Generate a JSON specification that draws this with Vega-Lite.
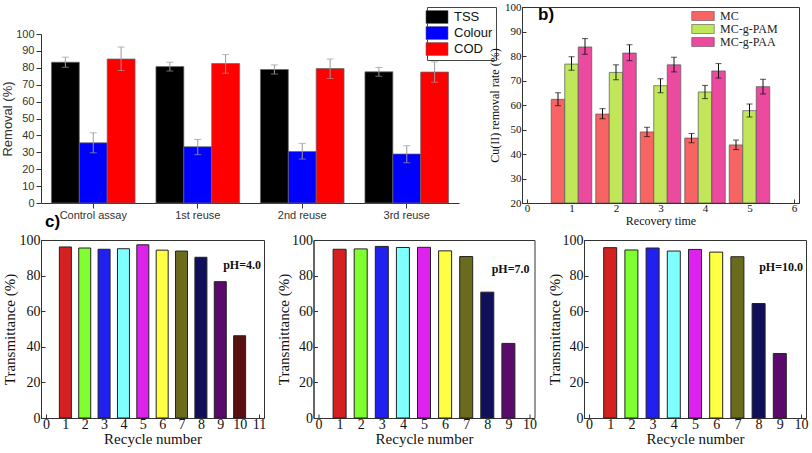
{
  "$schema": "https://vega.github.io/schema/vega-lite/v6.json",
  "padding": {"left": 1, "top": 0, "right": 0, "bottom": 0},
  "background": "white",
  "config": {
    "view": {"stroke": null},
    "axis": {"grid": false, "labelOverlap": false, "labelFlush": false, "labelFont": "Liberation Serif", "titleFont": "Liberation Serif", "titleFontWeight": "normal", "labelColor": "#111", "titleColor": "#111", "domainColor": "#333", "tickColor": "#333"}
  },
  "datasets": {
    "a": [
      {"cat": "Control assay", "series": "TSS", "v": 83.3, "lo": 80.3, "hi": 86.3},
      {"cat": "Control assay", "series": "Colour", "v": 35.6, "lo": 29.7, "hi": 41.5},
      {"cat": "Control assay", "series": "COD", "v": 85.2, "lo": 78.4, "hi": 92.3},
      {"cat": "1st reuse", "series": "TSS", "v": 80.7, "lo": 78.1, "hi": 83.3},
      {"cat": "1st reuse", "series": "Colour", "v": 33.3, "lo": 28.6, "hi": 37.6},
      {"cat": "1st reuse", "series": "COD", "v": 82.5, "lo": 76.8, "hi": 87.8},
      {"cat": "2nd reuse", "series": "TSS", "v": 79.0, "lo": 76.3, "hi": 81.7},
      {"cat": "2nd reuse", "series": "Colour", "v": 30.5, "lo": 26.0, "hi": 35.3},
      {"cat": "2nd reuse", "series": "COD", "v": 79.6, "lo": 73.7, "hi": 85.2},
      {"cat": "3rd reuse", "series": "TSS", "v": 77.6, "lo": 75.0, "hi": 80.2},
      {"cat": "3rd reuse", "series": "Colour", "v": 29.0, "lo": 23.8, "hi": 33.9},
      {"cat": "3rd reuse", "series": "COD", "v": 77.5, "lo": 71.5, "hi": 83.5}
    ],
    "b": [
      {"t": 1, "s": "MC", "v": 62.3, "lo": 59.7, "hi": 65.0},
      {"t": 1, "s": "MC-g-PAM", "v": 76.7, "lo": 74.2, "hi": 79.7},
      {"t": 1, "s": "MC-g-PAA", "v": 83.7, "lo": 80.7, "hi": 87.1},
      {"t": 2, "s": "MC", "v": 56.3, "lo": 54.4, "hi": 58.5},
      {"t": 2, "s": "MC-g-PAM", "v": 73.3, "lo": 70.3, "hi": 76.4},
      {"t": 2, "s": "MC-g-PAA", "v": 81.2, "lo": 78.1, "hi": 84.6},
      {"t": 3, "s": "MC", "v": 49.0, "lo": 47.1, "hi": 50.9},
      {"t": 3, "s": "MC-g-PAM", "v": 67.9, "lo": 65.0, "hi": 70.7},
      {"t": 3, "s": "MC-g-PAA", "v": 76.4, "lo": 73.5, "hi": 79.5},
      {"t": 4, "s": "MC", "v": 46.5, "lo": 44.6, "hi": 48.4},
      {"t": 4, "s": "MC-g-PAM", "v": 65.3, "lo": 62.6, "hi": 68.0},
      {"t": 4, "s": "MC-g-PAA", "v": 73.9, "lo": 71.0, "hi": 76.9},
      {"t": 5, "s": "MC", "v": 43.7, "lo": 41.8, "hi": 45.7},
      {"t": 5, "s": "MC-g-PAM", "v": 57.7, "lo": 55.1, "hi": 60.4},
      {"t": 5, "s": "MC-g-PAA", "v": 67.5, "lo": 64.5, "hi": 70.5}
    ],
    "c": [
      {"ph": "4.0", "n": 1, "tr": 96.1}, {"ph": "4.0", "n": 2, "tr": 95.5}, {"ph": "4.0", "n": 3, "tr": 94.8},
      {"ph": "4.0", "n": 4, "tr": 95.1}, {"ph": "4.0", "n": 5, "tr": 97.3}, {"ph": "4.0", "n": 6, "tr": 94.3},
      {"ph": "4.0", "n": 7, "tr": 93.8}, {"ph": "4.0", "n": 8, "tr": 90.3}, {"ph": "4.0", "n": 9, "tr": 76.6},
      {"ph": "4.0", "n": 10, "tr": 46.2},
      {"ph": "7.0", "n": 1, "tr": 94.8}, {"ph": "7.0", "n": 2, "tr": 95.0}, {"ph": "7.0", "n": 3, "tr": 96.4},
      {"ph": "7.0", "n": 4, "tr": 95.8}, {"ph": "7.0", "n": 5, "tr": 95.9}, {"ph": "7.0", "n": 6, "tr": 93.9},
      {"ph": "7.0", "n": 7, "tr": 90.7}, {"ph": "7.0", "n": 8, "tr": 70.7}, {"ph": "7.0", "n": 9, "tr": 41.9},
      {"ph": "10.0", "n": 1, "tr": 95.7}, {"ph": "10.0", "n": 2, "tr": 94.4}, {"ph": "10.0", "n": 3, "tr": 95.5},
      {"ph": "10.0", "n": 4, "tr": 93.8}, {"ph": "10.0", "n": 5, "tr": 94.7}, {"ph": "10.0", "n": 6, "tr": 93.2},
      {"ph": "10.0", "n": 7, "tr": 90.6}, {"ph": "10.0", "n": 8, "tr": 64.3}, {"ph": "10.0", "n": 9, "tr": 36.2}
    ]
  },
  "spacing": 2,
  "resolve": {"scale": {"color": "independent"}, "legend": {"color": "independent"}},
  "vconcat": [
    {
      "hconcat": [
        {
          "width": 418,
          "height": 196,
          "data": {"name": "a"},
          "title": {"text": "c)", "orient": "bottom", "anchor": "start", "frame": "group", "dx": 4, "offset": -6, "fontSize": 17, "fontWeight": "bold", "font": "Liberation Sans", "color": "black"},
          "encoding": {
            "x": {"field": "cat", "type": "nominal", "sort": ["Control assay", "1st reuse", "2nd reuse", "3rd reuse"],
              "scale": {"paddingInner": 0.2, "paddingOuter": 0.1},
              "axis": {"title": null, "labelAngle": 0, "labelFont": "Liberation Sans", "labelFontSize": 11, "labelColor": "#333", "labelPadding": 1}},
            "xOffset": {"field": "series", "type": "nominal", "sort": ["TSS", "Colour", "COD"]},
            "y": {"field": "v", "type": "quantitative", "scale": {"domain": [0, 100], "range": [196, 27], "nice": false},
              "axis": {"title": "Removal (%)", "titleX": -27, "values": [0, 10, 20, 30, 40, 50, 60, 70, 80, 90, 100], "labelOverlap": false, "labelFont": "Liberation Sans", "labelFontSize": 11, "labelColor": "#333", "titleFont": "Liberation Sans", "titleFontSize": 13, "titleColor": "#333", "tickSize": 5, "labelPadding": 2}}
          },
          "layer": [
            {
              "mark": {"type": "bar", "stroke": "#666", "strokeWidth": 0.7},
              "encoding": {
                "color": {"field": "series", "type": "nominal",
                  "scale": {"domain": ["TSS", "Colour", "COD"], "range": ["#000000", "#0000ff", "#ff0000"]},
                  "legend": {"title": null, "orient": "none", "legendX": 386, "legendY": 0, "fillColor": "white", "strokeColor": "#444", "padding": 3, "symbolType": "M-1.7,-1H1.7V1H-1.7Z", "symbolSize": 169, "symbolStrokeColor": "#666", "symbolStrokeWidth": 0.5, "labelFont": "Liberation Sans", "labelFontSize": 13, "labelColor": "#111", "rowPadding": 0, "labelOffset": 10}}
              }
            },
            {"mark": {"type": "rule", "color": "#999", "strokeWidth": 1},
              "encoding": {"y": {"field": "lo", "type": "quantitative"}, "y2": {"field": "hi"}}},
            {"mark": {"type": "tick", "orient": "horizontal", "color": "#999", "size": 7, "thickness": 1},
              "encoding": {"y": {"field": "hi", "type": "quantitative"}}},
            {"mark": {"type": "tick", "orient": "horizontal", "color": "#999", "size": 7, "thickness": 1},
              "encoding": {"y": {"field": "lo", "type": "quantitative"}}},
            {"data": {"values": [{"label": "a)"}]},
              "mark": {"type": "text", "align": "left", "baseline": "middle", "font": "Liberation Sans", "fontSize": 17, "fontWeight": "bold", "color": "black"},
              "encoding": {"x": {"datum": "Control assay", "bandPosition": 0}, "y": {"datum": 95}, "xOffset": {"value": 0}, "text": {"field": "label"}}}
          ]
        },
        {
          "width": 277,
          "height": 196,
          "data": {"name": "b"},
          "view": {"stroke": "#333", "strokeWidth": 1},
          "title": {"text": "b)", "anchor": "start", "frame": "group", "dx": 16, "dy": 27, "fontSize": 17, "fontWeight": "bold", "font": "Liberation Sans", "color": "black"},
          "encoding": {
            "x": {"field": "t", "type": "quantitative", "scale": {"domain": [0, 6], "nice": false},
              "axis": {"title": "Recovery time", "values": [0, 1, 2, 3, 4, 5, 6], "labelOverlap": false, "labelFont": "Liberation Serif", "titleFont": "Liberation Serif", "labelFontSize": 11, "titleFontSize": 12, "tickSize": -4, "labelPadding": 3, "titlePadding": 2}},
            "y": {"field": "v", "type": "quantitative", "scale": {"domain": [20, 100], "zero": false, "nice": false},
              "axis": {"title": "Cu(II) removal rate (%)", "values": [20, 30, 40, 50, 60, 70, 80, 90, 100], "labelOverlap": false, "labelFont": "Liberation Serif", "titleFont": "Liberation Serif", "labelFontSize": 11, "titleFontSize": 12, "tickSize": -4, "labelPadding": 5, "titlePadding": 3}}
          },
          "layer": [
            {
              "mark": {"type": "bar", "size": 13.5, "stroke": "#555", "strokeWidth": 0.7, "clip": true,
                "xOffset": {"expr": "datum.s === 'MC' ? -13.5 : (datum.s === 'MC-g-PAA' ? 13.5 : 0)"}},
              "encoding": {
                "y2": {"datum": 20},
                "color": {"field": "s", "type": "nominal",
                  "scale": {"domain": ["MC", "MC-g-PAM", "MC-g-PAA"], "range": ["#f86464", "#c2e65a", "#ec4a9e"]},
                  "legend": {"title": null, "orient": "none", "legendX": 175, "legendY": 3, "symbolType": "M-2.5,-1H2.5V1H-2.5Z", "symbolSize": 81, "symbolStrokeColor": "#555", "symbolStrokeWidth": 0.6, "labelFont": "Liberation Serif", "labelFontSize": 12, "labelColor": "#222", "rowPadding": 1, "labelOffset": 11}}
              }
            },
            {"mark": {"type": "rule", "color": "#111", "strokeWidth": 1,
                "xOffset": {"expr": "datum.s === 'MC' ? -13.5 : (datum.s === 'MC-g-PAA' ? 13.5 : 0)"}},
              "encoding": {"y": {"field": "lo", "type": "quantitative"}, "y2": {"field": "hi"}}},
            {"mark": {"type": "tick", "orient": "horizontal", "color": "#111", "size": 6, "thickness": 1,
                "xOffset": {"expr": "datum.s === 'MC' ? -13.5 : (datum.s === 'MC-g-PAA' ? 13.5 : 0)"}},
              "encoding": {"y": {"field": "hi", "type": "quantitative"}}},
            {"mark": {"type": "tick", "orient": "horizontal", "color": "#111", "size": 6, "thickness": 1,
                "xOffset": {"expr": "datum.s === 'MC' ? -13.5 : (datum.s === 'MC-g-PAA' ? 13.5 : 0)"}},
              "encoding": {"y": {"field": "lo", "type": "quantitative"}}}
          ]
        }
      ],
      "spacing": 63,
      "bounds": "flush",
      "resolve": {"scale": {"color": "independent"}, "legend": {"color": "independent"}}
    },
    {
      "hconcat": [
        {
          "width": 223,
          "height": 178,
          "view": {"stroke": "#333", "strokeWidth": 1},
          "data": {"name": "c"},
          "transform": [{"filter": "datum.ph === '4.0'"}],
          "title": {"text": "pH=4.0", "anchor": "end", "frame": "group", "dx": -3, "dy": 43, "font": "Liberation Serif", "fontWeight": "bold", "fontSize": 12, "color": "#111"},
          "mark": {"type": "bar", "size": 12, "stroke": "#222", "strokeWidth": 1},
          "encoding": {
            "x": {"field": "n", "type": "quantitative", "scale": {"domain": [0, 11], "nice": false},
              "axis": {"title": "Recycle number", "values": [0, 1, 2, 3, 4, 5, 6, 7, 8, 9, 10, 11], "labelOverlap": false, "labelFont": "Liberation Serif", "titleFont": "Liberation Serif", "labelFontSize": 14, "titleFontSize": 15, "tickSize": -4, "labelPadding": 3, "titlePadding": 0}},
            "y": {"field": "tr", "type": "quantitative", "scale": {"domain": [0, 100], "nice": false},
              "axis": {"title": "Transmittance (%)", "titleX": -24, "values": [0, 20, 40, 60, 80, 100], "labelOverlap": false, "labelFont": "Liberation Serif", "titleFont": "Liberation Serif", "labelFontSize": 14, "titleFontSize": 15, "tickSize": -4, "labelPadding": 5}},
            "color": {"field": "n", "type": "ordinal",
              "scale": {"domain": [1, 2, 3, 4, 5, 6, 7, 8, 9, 10], "range": ["#d42020", "#80ff30", "#2020f0", "#80ffff", "#dd22ee", "#ffff44", "#6b6b1e", "#10105a", "#5a0a6a", "#5a1010"]},
              "legend": null}
          }
        },
        {
          "width": 221,
          "height": 178,
          "view": {"stroke": "#333", "strokeWidth": 1},
          "data": {"name": "c"},
          "transform": [{"filter": "datum.ph === '7.0'"}],
          "title": {"text": "pH=7.0", "anchor": "end", "frame": "group", "dx": -5, "dy": 47, "font": "Liberation Serif", "fontWeight": "bold", "fontSize": 12, "color": "#111"},
          "mark": {"type": "bar", "size": 13, "stroke": "#222", "strokeWidth": 1},
          "encoding": {
            "x": {"field": "n", "type": "quantitative", "scale": {"domain": [0, 10], "nice": false},
              "axis": {"title": "Recycle number", "values": [0, 1, 2, 3, 4, 5, 6, 7, 8, 9, 10], "labelOverlap": false, "labelFont": "Liberation Serif", "titleFont": "Liberation Serif", "labelFontSize": 14, "titleFontSize": 15, "tickSize": -4, "labelPadding": 3, "titlePadding": 0}},
            "y": {"field": "tr", "type": "quantitative", "scale": {"domain": [0, 100], "nice": false},
              "axis": {"title": "Transmittance (%)", "titleX": -22, "values": [0, 20, 40, 60, 80, 100], "labelOverlap": false, "labelFont": "Liberation Serif", "titleFont": "Liberation Serif", "labelFontSize": 14, "titleFontSize": 15, "tickSize": -4, "labelPadding": 5}},
            "color": {"field": "n", "type": "ordinal",
              "scale": {"domain": [1, 2, 3, 4, 5, 6, 7, 8, 9, 10], "range": ["#d42020", "#80ff30", "#2020f0", "#80ffff", "#dd22ee", "#ffff44", "#6b6b1e", "#10105a", "#5a0a6a", "#5a1010"]},
              "legend": null}
          }
        },
        {
          "width": 222,
          "height": 178,
          "view": {"stroke": "#333", "strokeWidth": 1},
          "data": {"name": "c"},
          "transform": [{"filter": "datum.ph === '10.0'"}],
          "title": {"text": "pH=10.0", "anchor": "end", "frame": "group", "dx": -3, "dy": 45, "font": "Liberation Serif", "fontWeight": "bold", "fontSize": 12, "color": "#111"},
          "mark": {"type": "bar", "size": 13, "stroke": "#222", "strokeWidth": 1},
          "encoding": {
            "x": {"field": "n", "type": "quantitative", "scale": {"domain": [0, 10], "nice": false},
              "axis": {"title": "Recycle number", "values": [0, 1, 2, 3, 4, 5, 6, 7, 8, 9, 10], "labelOverlap": false, "labelFont": "Liberation Serif", "titleFont": "Liberation Serif", "labelFontSize": 14, "titleFontSize": 15, "tickSize": -4, "labelPadding": 3, "titlePadding": 0}},
            "y": {"field": "tr", "type": "quantitative", "scale": {"domain": [0, 100], "nice": false},
              "axis": {"title": "Transmittance (%)", "titleX": -22, "values": [0, 20, 40, 60, 80, 100], "labelOverlap": false, "labelFont": "Liberation Serif", "titleFont": "Liberation Serif", "labelFontSize": 14, "titleFontSize": 15, "tickSize": -4, "labelPadding": 5}},
            "color": {"field": "n", "type": "ordinal",
              "scale": {"domain": [1, 2, 3, 4, 5, 6, 7, 8, 9, 10], "range": ["#d42020", "#80ff30", "#2020f0", "#80ffff", "#dd22ee", "#ffff44", "#6b6b1e", "#10105a", "#5a0a6a", "#5a1010"]},
              "legend": null}
          }
        }
      ],
      "spacing": 49.5,
      "bounds": "flush",
      "resolve": {"scale": {"color": "independent"}, "legend": {"color": "independent"}}
    }
  ]
}
